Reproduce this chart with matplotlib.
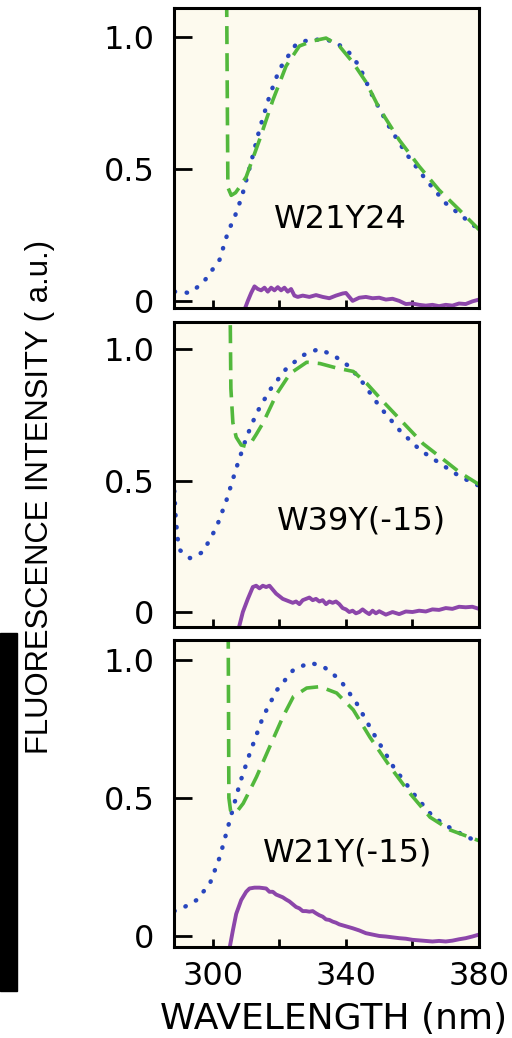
import numpy as np
import matplotlib
matplotlib.use("Agg")
import matplotlib.pyplot as plt
from matplotlib.patches import Rectangle

# ---- data (wavelength nm, relative intensity) ----
labels = ["W21Y24", "W39Y(-15)", "W21Y(-15)"]

blue1_x = [288.5, 290, 293, 297, 302, 304.5, 306.6, 308.7, 311.7, 314, 317, 320, 325, 329, 334,
           337, 341, 344, 348, 353, 358, 364, 370, 376, 380]
blue1_y = [0.035, 0.034, 0.03, 0.068, 0.156, 0.26, 0.32, 0.395, 0.536, 0.65, 0.776, 0.878, 0.973,
           0.99, 0.99, 0.98, 0.94, 0.89, 0.776, 0.66, 0.56, 0.46, 0.37, 0.31, 0.27]
green1_x = [304.0, 304.5, 305.5, 306.8, 308.5, 310, 314, 318, 322, 326, 330, 334, 338, 342, 346,
            350, 356, 362, 368, 374, 380]
green1_y = [1.4, 0.43, 0.40, 0.41, 0.44, 0.47, 0.61, 0.76, 0.89, 0.966, 0.985, 0.996, 0.966, 0.905,
            0.83, 0.73, 0.61, 0.51, 0.42, 0.346, 0.27]
purple1_x = [309.6, 310.5, 311.5, 312.5, 313.5, 314.5, 315.5, 316.5, 317.5, 318.5, 319.5, 320.5,
             321.5, 322.5, 323.5, 324.5, 325.5, 327, 329, 331, 333, 335, 337, 339, 340, 341, 342,
             344, 346, 348, 350, 352, 354, 356, 358, 360, 362, 364, 366, 368, 370, 372, 374, 376,
             378, 380]
purple1_y = [-0.03, 0.0, 0.03, 0.055, 0.045, 0.04, 0.05, 0.035, 0.05, 0.04, 0.052, 0.04, 0.05,
             0.035, 0.045, 0.02, 0.015, 0.02, 0.015, 0.022, 0.015, 0.01, 0.02, 0.028, 0.03, 0.015,
             0.0, 0.012, 0.015, 0.01, 0.012, 0.005, 0.008, 0.0, -0.012, -0.01, -0.015, -0.018,
             -0.015, -0.02, -0.015, -0.018, -0.01, -0.012, -0.002, 0.005]

blue2_x = [288.4, 288.8, 289.4, 290.1, 293.1, 297, 301.1, 304.1, 307.1, 310.1, 313.1, 317.1, 322.2,
           327.2, 331.7, 336.2, 341.2, 345.2, 350.2, 356.2, 362.3, 368.3, 374.3, 380]
blue2_y = [0.46, 0.36, 0.28, 0.235, 0.205, 0.228, 0.323, 0.426, 0.55, 0.665, 0.756, 0.844, 0.928,
           0.977, 1.0, 0.977, 0.932, 0.87, 0.78, 0.69, 0.616, 0.565, 0.515, 0.48]
green2_x = [305.0, 305.4, 306.0, 307, 308.5, 310, 311.5, 313, 315.1, 319.2, 323.2, 328.2, 332.2,
            337.2, 342.2, 346.2, 351.2, 357.2, 363.2, 369.3, 374.3, 380]
green2_y = [1.4, 0.85, 0.72, 0.665, 0.635, 0.63, 0.645, 0.675, 0.72, 0.83, 0.907, 0.95, 0.945,
            0.928, 0.915, 0.87, 0.8, 0.72, 0.64, 0.58, 0.53, 0.485]
purple2_x = [307.8, 309, 310.5, 312, 313, 314, 315, 316, 317, 318, 319, 320, 321, 322, 323, 324,
             325, 326, 327, 328, 329, 330, 331, 332, 333, 334, 335, 336, 337, 338, 339, 340, 341,
             342, 343, 344, 345, 346, 347, 348, 349, 350, 352, 354, 356, 358, 360, 362, 364, 366,
             368, 370, 372, 374, 376, 378, 380]
purple2_y = [-0.06, 0.0, 0.05, 0.095, 0.1, 0.09, 0.1, 0.095, 0.1, 0.085, 0.07, 0.06, 0.05, 0.045,
             0.04, 0.035, 0.04, 0.03, 0.045, 0.05, 0.055, 0.045, 0.05, 0.04, 0.045, 0.03, 0.04,
             0.035, 0.04, 0.03, 0.015, 0.01, 0.0, 0.005, -0.005, 0.0, 0.01, 0.0, -0.008, 0.005,
             -0.005, 0.003, -0.01, 0.0, -0.008, 0.002, 0.0, 0.005, 0.002, 0.01, 0.008, 0.015,
             0.012, 0.02, 0.018, 0.02, 0.012]

blue3_x = [288.4, 291.6, 295.1, 299.1, 302.1, 305.1, 308.1, 311.1, 315.1, 319.2, 324.2, 329.2,
           333.2, 338.2, 343.2, 348.2, 354.2, 360.2, 366.3, 372.3, 380]
blue3_y = [0.09, 0.106, 0.13, 0.19, 0.287, 0.42, 0.553, 0.662, 0.795, 0.89, 0.964, 0.99, 0.976,
           0.928, 0.843, 0.735, 0.614, 0.517, 0.43, 0.384, 0.338]
green3_x = [304.5, 304.8, 305.3, 306.3, 307.5, 309.1, 311, 313.1, 317.1, 321.1, 324.2, 328.2,
            332.2, 337.2, 342.2, 347.2, 353.2, 359.2, 365.3, 371.3, 380]
green3_y = [1.4, 0.5, 0.455, 0.445, 0.455, 0.48, 0.525, 0.576, 0.686, 0.795, 0.867, 0.898, 0.903,
            0.88, 0.819, 0.72, 0.614, 0.517, 0.43, 0.384, 0.345]
purple3_x = [305, 306, 307, 308.5, 310, 311, 312.5, 314, 316, 317, 318, 319, 320, 321, 322, 323,
             324, 325, 326, 327, 328, 329, 330, 331, 332, 333, 334, 335, 336, 337, 338, 340, 342,
             344, 346, 348, 350, 352, 354, 356, 358, 360, 362, 364, 366, 368, 370, 372, 374, 376,
             378, 380]
purple3_y = [-0.045, 0.02, 0.08, 0.13, 0.16, 0.172, 0.175, 0.175, 0.172, 0.16, 0.16, 0.15, 0.145,
             0.14, 0.132, 0.125, 0.115, 0.105, 0.1, 0.09, 0.09, 0.088, 0.09, 0.082, 0.075, 0.07,
             0.06, 0.058, 0.052, 0.048, 0.042, 0.035, 0.028, 0.02, 0.01, 0.005, 0.0, -0.002,
             -0.005, -0.008, -0.01, -0.014, -0.016, -0.018, -0.02, -0.018, -0.02, -0.017, -0.012,
             -0.008, -0.002, 0.005]

blues = [(blue1_x, blue1_y), (blue2_x, blue2_y), (blue3_x, blue3_y)]
greens = [(green1_x, green1_y), (green2_x, green2_y), (green3_x, green3_y)]
purples = [(purple1_x, purple1_y), (purple2_x, purple2_y), (purple3_x, purple3_y)]
ylims = [(-0.027, 1.11), (-0.057, 1.103), (-0.04, 1.072)]

yticks = [0, 0.5, 1.0]
ytick_labels = ["0", "0.5", "1.0"]
xticks = [300, 320, 340, 360, 380]
xtick_labels = ["300", "", "340", "", "380"]

BG = "#fdfaee"
BLUE = "#2846be"
GREEN = "#52b83c"
PURPLE = "#8c46aa"

W, H = 512, 1038
fig = plt.figure(figsize=(W / 100, H / 100), dpi=100)

# axes boxes in pixels: (top, bottom)
boxes = [(8, 308), (322, 627), (640, 947)]
left, right = 174, 479
label_pos = [(340, 219), (361, 521), (348, 853)]

for i, (top, bot) in enumerate(boxes):
    ax = fig.add_axes([left / W, 1 - bot / H, (right - left) / W, (bot - top) / H])
    ax.set_facecolor(BG)
    bx, by = blues[i]
    gx, gy = greens[i]
    px, py = purples[i]
    ax.plot(bx, by, color=BLUE, lw=3.2, linestyle=(0, (0.1, 2.6)), dash_capstyle="round")
    ax.plot(gx, gy, color=GREEN, lw=2.6, linestyle=(0, (5.0, 2.5)))
    ax.plot(px, py, color=PURPLE, lw=2.8)
    ax.set_xlim(288.3, 380)
    ax.set_ylim(*ylims[i])
    for s in ax.spines.values():
        s.set_linewidth(2.2)
    ax.set_yticks(yticks)
    ax.set_yticklabels(ytick_labels)
    ax.set_xticks(xticks)
    ax.tick_params(axis="y", direction="in", length=13, width=2, pad=14, labelsize=23)
    ax.tick_params(axis="x", direction="in", length=6, width=2, pad=10, labelsize=23)
    if i == 2:
        ax.set_xticklabels(xtick_labels)
    else:
        ax.set_xticklabels([])
    lx, ly = label_pos[i]
    fig.text(lx / W, 1 - ly / H, labels[i], ha="center", va="center", fontsize=23)

fig.text(40 / W, 1 - 497 / H, "FLUORESCENCE INTENSITY ( a.u.)", rotation=90,
         ha="center", va="center", fontsize=22.3, family="Liberation Sans")
fig.text(334 / W, 1 - 1019 / H, "WAVELENGTH (nm)", ha="center", va="center", fontsize=26)

# black strip at the left edge of the source scan
fig.add_artist(Rectangle((0, 1 - 991 / H), 17 / W, (991 - 633) / H,
                         transform=fig.transFigure, color="black"))

fig.savefig("out.png", dpi=100)
